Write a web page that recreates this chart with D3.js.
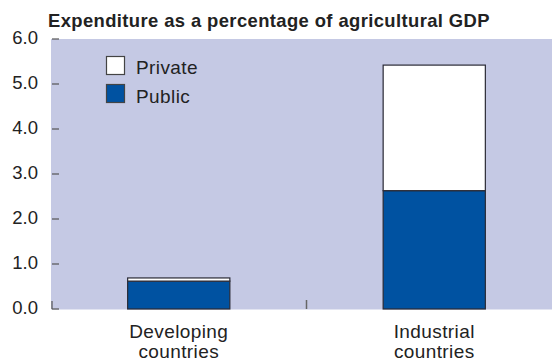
<!DOCTYPE html>
<html>
<head>
<meta charset="utf-8">
<script src="https://cdn.jsdelivr.net/npm/d3@7"></script>
<style>
  html, body { margin: 0; padding: 0; background: #ffffff; }
  svg { display: block; }
  text { font-family: "Liberation Sans", Arial, sans-serif; fill: #222; }
</style>
</head>
<body>
<svg id="chart" width="552" height="362"></svg>
<script>
// Agricultural R&D expenditure, share of agricultural GDP (%)
const categories = [["Developing", "countries"], ["Industrial", "countries"]];
const publicValues = [0.62, 2.63];
const privateValues = [0.07, 2.79];
const yTicks = [0, 1, 2, 3, 4, 5, 6];
const yTickLabels = ["0.0", "1.0", "2.0", "3.0", "4.0", "5.0", "6.0"];
const seriesNames = ["Private", "Public"];

const colors = { Public: "#0052a1", Private: "#ffffff" };
const plotBg = "#c5c9e4";

const svg = d3.select("#chart");
const plotLeft = 51, plotRight = 562, plotTop = 39, plotBottom = 309;

const y = d3.scaleLinear().domain([0, 6]).range([plotBottom, plotTop]);
const x = d3.scaleBand().domain(d3.range(categories.length)).range([plotLeft, plotRight]).padding(0);
const barW = x.bandwidth() * 0.4;

// plot panel
svg.append("rect")
  .attr("x", plotLeft).attr("y", plotTop)
  .attr("width", 552 - plotLeft).attr("height", plotBottom - plotTop + 0.5)
  .attr("fill", plotBg);

// title
svg.append("text")
  .attr("x", 48).attr("y", 27)
  .style("font-size", "18.4px").style("font-weight", "bold")
  .style("letter-spacing", "0.4px")
  .text("Expenditure as a percentage of agricultural GDP");

// stacked data
const rows = categories.map((c, i) => ({ i, Public: publicValues[i], Private: privateValues[i] }));
const stack = d3.stack().keys(["Public", "Private"])(rows);

const g = svg.append("g");
stack.forEach(layer => {
  g.selectAll(null).data(layer).enter().append("rect")
    .attr("x", d => x(d.data.i) + (x.bandwidth() - barW) / 2)
    .attr("y", d => y(d[1]))
    .attr("width", barW)
    .attr("height", d => y(d[0]) - y(d[1]))
    .attr("fill", colors[layer.key])
    .attr("stroke", "#2a2a35")
    .attr("stroke-width", 1.2);
});

// y axis ticks and labels
const yAxis = svg.append("g");
yAxis.selectAll("line.tick").data(yTicks).enter().append("line")
  .attr("x1", 52).attr("x2", 59)
  .attr("y1", d => y(d)).attr("y2", d => y(d))
  .attr("stroke", "#555").attr("stroke-width", 1.2);
yAxis.append("line")
  .attr("x1", 52).attr("x2", 52)
  .attr("y1", y(0) - 8).attr("y2", y(0))
  .attr("stroke", "#555").attr("stroke-width", 1.2);
yAxis.selectAll("text").data(yTicks).enter().append("text")
  .attr("x", 38).attr("y", d => y(d) - 1)
  .attr("dy", "0.35em")
  .attr("text-anchor", "end")
  .style("font-size", "18.5px")
  .text((d, i) => yTickLabels[i]);

// category divider tick
svg.append("line")
  .attr("x1", x(1)).attr("x2", x(1))
  .attr("y1", y(0) - 9).attr("y2", y(0))
  .attr("stroke", "#666").attr("stroke-width", 1.5);

// category labels
categories.forEach((lines, i) => {
  const t = svg.append("text")
    .attr("text-anchor", "middle")
    .style("font-size", "19px")
    .style("letter-spacing", "0.4px");
  lines.forEach((ln, k) => {
    t.append("tspan")
      .attr("x", x(i) + x.bandwidth() / 2)
      .attr("y", 338 + k * 20)
      .text(ln);
  });
});

// legend
const legend = svg.append("g");
seriesNames.forEach((name, k) => {
  legend.append("rect")
    .attr("x", 106.5).attr("y", 56.5 + k * 28)
    .attr("width", 18).attr("height", 18)
    .attr("fill", colors[name])
    .attr("stroke", "#444").attr("stroke-width", 1.2);
  legend.append("text")
    .attr("x", 136).attr("y", 74 + k * 28.5)
    .style("font-size", "19px")
    .style("letter-spacing", "0.4px")
    .text(name);
});
</script>
</body>
</html>
